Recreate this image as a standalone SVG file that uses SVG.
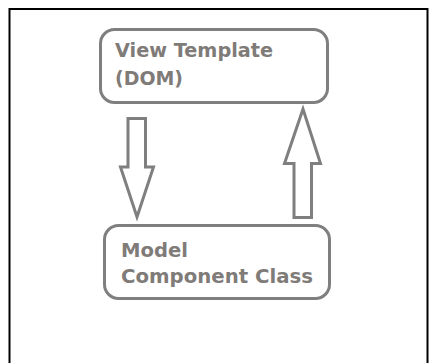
<svg xmlns="http://www.w3.org/2000/svg" width="429" height="363" viewBox="0 0 429 363">
<style>
.box{fill:#fff;stroke:#7f7f7f;stroke-width:3}
.arr{fill:#fff;stroke:#7f7f7f;stroke-width:3;stroke-linejoin:miter}
.t{font-family:"DejaVu Sans",sans-serif;font-weight:bold;font-size:20px;fill:#7f7b78}
</style>
<rect x="0" y="0" width="429" height="363" fill="#fff"/>
<path d="M9.5 363 V9 H427.5 V363" fill="none" stroke="#000" stroke-width="2"/>
<g id="view">
<rect class="box" x="100.5" y="29.5" width="227" height="73" rx="14"/>
<text class="t" x="115" y="57" textLength="158" lengthAdjust="spacingAndGlyphs">View Template</text>
<text class="t" x="115" y="85" textLength="68" lengthAdjust="spacingAndGlyphs">(DOM)</text>
</g>
<g id="model">
<rect class="box" x="104.5" y="225.5" width="225" height="73" rx="14"/>
<text class="t" x="121" y="257" textLength="67" lengthAdjust="spacingAndGlyphs">Model</text>
<text class="t" x="121" y="283" textLength="192" lengthAdjust="spacingAndGlyphs">Component Class</text>
</g>
<g id="connectors">
<path class="arr" d="M128 118.5 H145.5 V167 H153.5 L137 217 L120.5 167 H128 Z"/>
<path class="arr" d="M294 217.5 H311.5 V163.5 H320.5 L303 109 L284.5 163.5 H294 Z"/>
</g>
</svg>
